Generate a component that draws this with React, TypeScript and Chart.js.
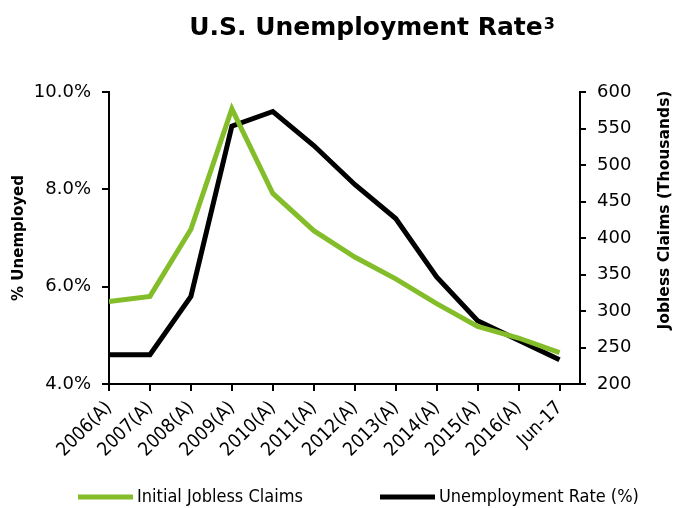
import React, { useEffect, useRef } from "react";
import { Chart, registerables } from "chart.js";

Chart.register(...registerables);

const chartTitle = "U.S. Unemployment Rate";
const titleSuperscript = "3";
const categories = [
  "2006(A)", "2007(A)", "2008(A)", "2009(A)", "2010(A)", "2011(A)",
  "2012(A)", "2013(A)", "2014(A)", "2015(A)", "2016(A)", "Jun-17",
];
const unemploymentRate = [4.6, 4.6, 5.8, 9.3, 9.6, 8.9, 8.1, 7.4, 6.2, 5.3, 4.9, 4.5];
const joblessClaims = [313, 320, 412, 577, 461, 410, 374, 344, 310, 279, 263, 243];
const leftTicks = [4, 6, 8, 10];
const rightTicks = [200, 250, 300, 350, 400, 450, 500, 550, 600];
const seriesNames = ["Initial Jobless Claims", "Unemployment Rate (%)"];
const leftAxisTitle = "% Unemployed";
const rightAxisTitle = "Jobless Claims (Thousands)";

const GREEN = "#84bd2a";
const BLACK = "#000000";

const W = 677;
const H = 508;

const decorPlugin = {
  id: "decor",
  afterDraw(chart: any) {
    const ctx = chart.ctx;
    ctx.save();
    // title with superscript
    ctx.fillStyle = "#000";
    ctx.textBaseline = "alphabetic";
    ctx.textAlign = "left";
    const mainFont = "bold 25px 'DejaVu Sans'";
    const supFont = "bold 16px 'DejaVu Sans'";
    ctx.font = mainFont;
    const wMain = ctx.measureText(chartTitle).width;
    ctx.font = supFont;
    const wSup = ctx.measureText(titleSuperscript).width;
    const startX = 372 - (wMain + 1 + wSup) / 2;
    ctx.font = mainFont;
    ctx.fillText(chartTitle, startX, 35);
    ctx.font = supFont;
    ctx.fillText(titleSuperscript, startX + wMain + 1, 29);
    // right axis title
    ctx.save();
    ctx.translate(665, 210);
    ctx.rotate(-Math.PI / 2);
    ctx.font = "bold 15.5px 'DejaVu Sans'";
    ctx.textAlign = "center";
    ctx.textBaseline = "middle";
    ctx.fillText(rightAxisTitle, 0, 0);
    ctx.restore();
    // legend
    const items = [
      { text: seriesNames[0], color: GREEN, x: 78 },
      { text: seriesNames[1], color: BLACK, x: 380 },
    ];
    ctx.font = "18px 'DejaVu Sans Condensed', 'DejaVu Sans'";
    ctx.textAlign = "left";
    ctx.textBaseline = "middle";
    for (const it of items) {
      ctx.fillStyle = it.color;
      ctx.fillRect(it.x, 494.5, 55, 5);
      ctx.fillStyle = "#000";
      ctx.fillText(it.text, it.x + 59, 497);
    }
    ctx.restore();
  },
};

export default function App() {
  const ref = useRef<HTMLCanvasElement | null>(null);

  useEffect(() => {
    if (!ref.current) return;
    const chart = new Chart(ref.current, {
      type: "line",
      data: {
        datasets: [
          {
            label: seriesNames[0],
            data: joblessClaims.map((v, i) => ({ x: i, y: v })),
            borderColor: GREEN,
            backgroundColor: GREEN,
            borderWidth: 5,
            pointRadius: 0,
            yAxisID: "y1",
            tension: 0,
          },
          {
            label: seriesNames[1],
            data: unemploymentRate.map((v, i) => ({ x: i, y: v })),
            borderColor: BLACK,
            backgroundColor: BLACK,
            borderWidth: 5,
            pointRadius: 0,
            yAxisID: "y",
            tension: 0,
          },
        ],
      },
      options: {
        animation: false,
        responsive: false,
        devicePixelRatio: 1,
        layout: { padding: { top: 92, left: 0, right: 0, bottom: 0 } },
        plugins: {
          legend: { display: false },
          title: { display: false },
          tooltip: { enabled: false },
        },
        scales: {
          x: {
            type: "linear",
            min: 0,
            max: 11.5,
            afterBuildTicks: (scale: any) => {
              scale.ticks = categories.map((_, i) => ({ value: i }));
            },
            afterFit: (scale: any) => {
              scale.height = H - 384;
            },
            grid: {
              drawOnChartArea: false,
              drawTicks: true,
              tickLength: 7,
              color: "#000",
              lineWidth: 2,
            },
            border: { display: true, color: "#000", width: 2 },
            ticks: {
              autoSkip: false,
              minRotation: 45,
              maxRotation: 45,
              padding: 6,
              color: "#000",
              font: { family: "'DejaVu Sans Condensed', 'DejaVu Sans'", size: 19 },
              callback: (v: any) => categories[v] ?? "",
            },
          },
          y: {
            type: "linear",
            position: "left",
            min: 4,
            max: 10,
            afterBuildTicks: (scale: any) => {
              scale.ticks = leftTicks.map((v) => ({ value: v }));
            },
            afterFit: (scale: any) => {
              scale.width = 109;
            },
            grid: {
              drawOnChartArea: false,
              drawTicks: true,
              tickLength: 7,
              color: "#000",
              lineWidth: 2,
            },
            border: { display: true, color: "#000", width: 2 },
            ticks: {
              padding: 11,
              color: "#000",
              font: { family: "'DejaVu Sans'", size: 18 },
              callback: (v: any) => Number(v).toFixed(1) + "%",
            },
            title: {
              display: true,
              text: leftAxisTitle,
              color: "#000",
              padding: { top: 10, bottom: 0 },
              font: { family: "'DejaVu Sans'", size: 15, weight: "bold" },
            },
          },
          y1: {
            type: "linear",
            position: "right",
            min: 200,
            max: 600,
            afterBuildTicks: (scale: any) => {
              scale.ticks = rightTicks.map((v) => ({ value: v }));
            },
            afterFit: (scale: any) => {
              scale.width = W - 580;
            },
            grid: {
              drawOnChartArea: false,
              drawTicks: true,
              tickLength: 6,
              color: "#000",
              lineWidth: 2,
            },
            border: { display: true, color: "#000", width: 2 },
            ticks: {
              padding: 11,
              color: "#000",
              font: { family: "'DejaVu Sans'", size: 18 },
              callback: (v: any) => String(v),
            },
          },
        },
      },
      plugins: [decorPlugin],
    } as any);
    return () => chart.destroy();
  }, []);

  return (
    <div style={{ position: "absolute", left: 0, top: 0, width: W, height: H, background: "#fff" }}>
      <canvas ref={ref} width={W} height={H} style={{ width: W, height: H, display: "block" }} />
    </div>
  );
}
